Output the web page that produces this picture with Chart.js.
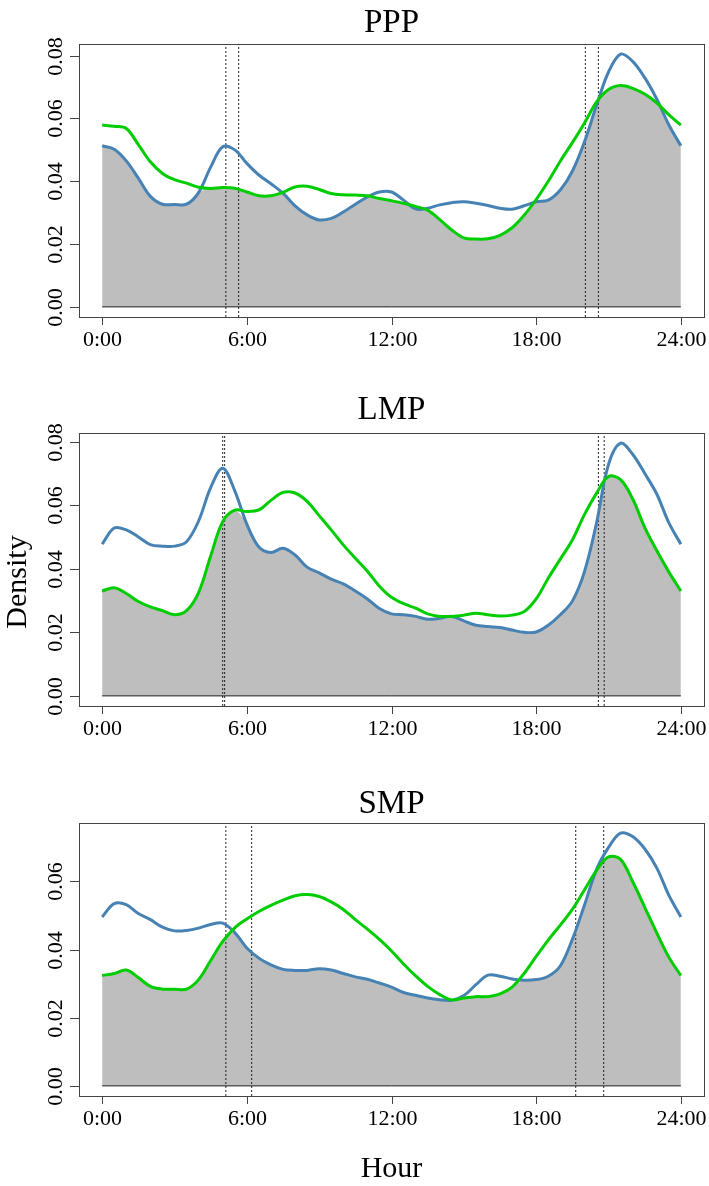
<!DOCTYPE html>
<html>
<head>
<meta charset="utf-8">
<script src="https://cdn.jsdelivr.net/npm/chart.js@4.4.1/dist/chart.umd.min.js"></script>
<style>
    body { margin: 0; background: #fff; width: 709px; height: 1186px; position: relative; overflow: hidden; }
    canvas { position: absolute; left: 0; }
</style>
</head>
<body>
<canvas id="ppp" width="709" height="380" style="top:0px"></canvas>
<canvas id="lmp" width="709" height="380" style="top:380px"></canvas>
<canvas id="smp" width="709" height="426" style="top:760px"></canvas>
<script>
// Hour grid (half-hour steps)
const hours = [0, 0.5, 1, 1.5, 2, 2.5, 3, 3.5, 4, 4.5, 5, 5.5, 6, 6.5, 7, 7.5, 8, 8.5, 9, 9.5,
    10, 10.5, 11, 11.5, 12, 12.5, 13, 13.5, 14, 14.5, 15, 15.5, 16, 16.5, 17, 17.5, 18, 18.5, 19, 19.5,
    20, 20.5, 21, 21.5, 22, 22.5, 23, 23.5, 24];

const xTicks = [0, 6, 12, 18, 24];
const xTickLabels = ['0:00', '6:00', '12:00', '18:00', '24:00'];
const yTicksFull = [0, 0.02, 0.04, 0.06, 0.08];
const yTicksShort = [0, 0.02, 0.04, 0.06];

// PPP
const pppBlue = [0.0513, 0.0502, 0.0465, 0.0410, 0.0352, 0.0327, 0.0326, 0.0327, 0.0364, 0.0445,
    0.0510, 0.0500, 0.0457, 0.0420, 0.0392, 0.0362, 0.0322, 0.0293, 0.0277, 0.0282,
    0.0302, 0.0327, 0.0350, 0.0366, 0.0366, 0.0340, 0.0312, 0.0314, 0.0325, 0.0332,
    0.0335, 0.0330, 0.0323, 0.0314, 0.0311, 0.0322, 0.0335, 0.0340, 0.0372, 0.0432,
    0.0525, 0.0641, 0.0748, 0.0805, 0.0782, 0.0730, 0.0662, 0.0580, 0.0513];
const pppGreen = [0.0579, 0.0575, 0.0568, 0.0517, 0.0462, 0.0425, 0.0405, 0.0394, 0.0381, 0.0377,
    0.0380, 0.0378, 0.0366, 0.0354, 0.0354, 0.0365, 0.0382, 0.0384, 0.0374, 0.0361,
    0.0357, 0.0356, 0.0354, 0.0345, 0.0338, 0.0330, 0.0320, 0.0308, 0.0278, 0.0245,
    0.0220, 0.0216, 0.0217, 0.0228, 0.0252, 0.0292, 0.0342, 0.0400, 0.0464, 0.0523,
    0.0585, 0.0652, 0.0692, 0.0705, 0.0696, 0.0678, 0.0650, 0.0612, 0.0579];
const pppCuts = [5.13, 5.66, 20.04, 20.58];

// LMP
const lmpBlue = [0.0477, 0.0528, 0.0522, 0.0500, 0.0476, 0.0471, 0.0471, 0.0485, 0.0550, 0.0655,
    0.0716, 0.0645, 0.0540, 0.0468, 0.0451, 0.0464, 0.0443, 0.0405, 0.0387, 0.0367,
    0.0352, 0.0330, 0.0305, 0.0275, 0.0258, 0.0255, 0.0250, 0.0241, 0.0244, 0.0250,
    0.0236, 0.0222, 0.0218, 0.0215, 0.0207, 0.0200, 0.0201, 0.0222, 0.0255, 0.0298,
    0.0390, 0.0543, 0.0728, 0.0795, 0.0760, 0.0700, 0.0635, 0.0545, 0.0477];
const lmpGreen = [0.0330, 0.0340, 0.0322, 0.0297, 0.0280, 0.0268, 0.0255, 0.0268, 0.0325, 0.0440,
    0.0548, 0.0584, 0.0580, 0.0585, 0.0615, 0.0640, 0.0638, 0.0612, 0.0567, 0.0522,
    0.0475, 0.0433, 0.0392, 0.0345, 0.0310, 0.0290, 0.0276, 0.0258, 0.0250, 0.0250,
    0.0254, 0.0260, 0.0255, 0.0251, 0.0254, 0.0265, 0.0305, 0.0370, 0.0430, 0.0490,
    0.0570, 0.0637, 0.0690, 0.0680, 0.0620, 0.0530, 0.0457, 0.0390, 0.0330];
const lmpCuts = [5.0, 5.08, 20.58, 20.82];

// SMP
const smpBlue = [0.0496, 0.0535, 0.0532, 0.0506, 0.0488, 0.0466, 0.0455, 0.0456, 0.0463, 0.0474,
    0.0478, 0.0450, 0.0405, 0.0375, 0.0355, 0.0342, 0.0339, 0.0339, 0.0344, 0.0340,
    0.0330, 0.0320, 0.0313, 0.0302, 0.0290, 0.0274, 0.0266, 0.0258, 0.0253, 0.0251,
    0.0265, 0.0297, 0.0325, 0.0322, 0.0314, 0.0310, 0.0312, 0.0322, 0.0352, 0.0430,
    0.0530, 0.0635, 0.0700, 0.0742, 0.0732, 0.0696, 0.0640, 0.0560, 0.0496];
const smpGreen = [0.0324, 0.0330, 0.0340, 0.0318, 0.0292, 0.0284, 0.0284, 0.0284, 0.0312, 0.0368,
    0.0424, 0.0464, 0.0490, 0.0512, 0.0530, 0.0545, 0.0558, 0.0562, 0.0556, 0.0540,
    0.0518, 0.0488, 0.0460, 0.0430, 0.0396, 0.0358, 0.0323, 0.0292, 0.0268, 0.0252,
    0.0258, 0.0262, 0.0262, 0.0270, 0.0290, 0.0330, 0.0380, 0.0428, 0.0472, 0.0518,
    0.0575, 0.0632, 0.0672, 0.0665, 0.0600, 0.0525, 0.0449, 0.0378, 0.0324];
const smpCuts = [5.13, 6.2, 19.64, 20.8];

const BLUE = '#4682b4';
const GREEN = '#00cd00';
const SHADE = '#bebebe';
const SERIF = '"Liberation Serif", "Times New Roman", serif';

// draws the R-style box, ticks, labels and titles
const framePlugin = {
    id: 'frame',
    afterDraw(chart) {
        const o = chart.options.plugins.frame;
        const ctx = chart.ctx;
        const area = chart.chartArea;
        const xs = chart.scales.x;
        const ys = chart.scales.y;
        ctx.save();
        ctx.strokeStyle = '#444';
        ctx.lineWidth = 1;
        ctx.strokeRect(Math.round(area.left) + 0.5, Math.round(area.top) + 0.5,
            Math.round(area.right - area.left), Math.round(area.bottom - area.top));

        ctx.fillStyle = '#000';
        ctx.font = '22px ' + SERIF;
        // x axis
        ctx.textAlign = 'center';
        ctx.textBaseline = 'alphabetic';
        xTicks.forEach((t, i) => {
            const px = Math.round(xs.getPixelForValue(t)) + 0.5;
            ctx.beginPath();
            ctx.moveTo(px, area.bottom);
            ctx.lineTo(px, area.bottom + 8);
            ctx.stroke();
            ctx.fillText(xTickLabels[i], px, area.bottom + 28.5);
        });
        // y axis, labels turned like R's default
        o.yTicks.forEach(t => {
            const py = Math.round(ys.getPixelForValue(t)) + 0.5;
            ctx.beginPath();
            ctx.moveTo(area.left, py);
            ctx.lineTo(area.left - 9, py);
            ctx.stroke();
            ctx.save();
            ctx.translate(61.5, py);
            ctx.rotate(-Math.PI / 2);
            ctx.fillText(t.toFixed(2), 0, 0);
            ctx.restore();
        });

        ctx.font = '33px ' + SERIF;
        ctx.fillText(o.title, (area.left + area.right) / 2, o.titleY);

        if (o.yLabel) {
            ctx.font = '30px ' + SERIF;
            ctx.save();
            ctx.translate(26, o.yLabel.y);
            ctx.rotate(-Math.PI / 2);
            ctx.fillText(o.yLabel.text, 0, 0);
            ctx.restore();
        }
        if (o.xLabel) {
            ctx.font = '30px ' + SERIF;
            ctx.fillText(o.xLabel.text, (area.left + area.right) / 2, o.xLabel.y);
        }
        ctx.restore();
    }
};

function makePanel(id, title, blue, green, cuts, yTicks, box, extra) {
    const canvas = document.getElementById(id);
    const top = Math.max(...blue, ...green);
    const pad = top * 0.04;
    const yMin = -pad, yMax = top + pad;

    const line = (vals, color) => ({
        data: hours.map((h, i) => ({ x: h, y: vals[i] })),
        borderColor: color,
        borderWidth: 3,
        pointRadius: 0,
        tension: 0.35,
        fill: false
    });

    const cutSets = cuts.map(c => ({
        data: [{ x: c, y: yMin }, { x: c, y: yMax }],
        borderColor: '#222',
        borderWidth: 1,
        borderDash: [2, 2],
        pointRadius: 0,
        fill: false
    }));

    const datasets = [
        line(green, GREEN),
        line(blue, BLUE),
        ...cutSets,
        {
            data: [{ x: 0, y: 0 }, { x: 24, y: 0 }],
            borderColor: '#222',
            borderWidth: 1,
            pointRadius: 0,
            fill: false
        },
        {
            // overlap of the two densities
            data: hours.map((h, i) => ({ x: h, y: Math.min(blue[i], green[i]) })),
            borderWidth: 0,
            borderColor: 'rgba(0,0,0,0)',
            backgroundColor: SHADE,
            pointRadius: 0,
            tension: 0.35,
            fill: 'origin'
        }
    ];

    return new Chart(canvas, {
        type: 'line',
        data: { datasets },
        plugins: [framePlugin],
        options: {
            responsive: false,
            animation: false,
            layout: { padding: { left: 0, right: 5, top: box.top, bottom: 0 } },
            scales: {
                x: {
                    type: 'linear', min: -0.96, max: 24.96,
                    ticks: { display: false }, grid: { display: false }, border: { display: false },
                    afterFit: s => { s.height = canvas.height - box.bottom; }
                },
                y: {
                    min: yMin, max: yMax,
                    ticks: { display: false }, grid: { display: false }, border: { display: false },
                    afterFit: s => { s.width = 79; }
                }
            },
            plugins: {
                legend: { display: false },
                tooltip: { enabled: false },
                frame: Object.assign({ title: title, titleY: box.titleY, yTicks: yTicks }, extra || {})
            }
        }
    });
}

makePanel('ppp', 'PPP', pppBlue, pppGreen, pppCuts, yTicksFull, { top: 44, bottom: 317, titleY: 32 });
makePanel('lmp', 'LMP', lmpBlue, lmpGreen, lmpCuts, yTicksFull, { top: 53, bottom: 326, titleY: 39 },
    { yLabel: { text: 'Density', y: 202 } });
makePanel('smp', 'SMP', smpBlue, smpGreen, smpCuts, yTicksShort, { top: 63, bottom: 336, titleY: 53 },
    { xLabel: { text: 'Hour', y: 417 } });
</script>
</body>
</html>
